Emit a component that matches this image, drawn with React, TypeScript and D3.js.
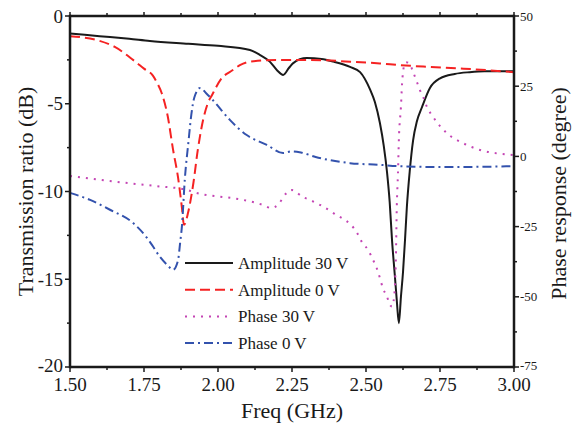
import React from "react"
import * as d3 from "d3"

const amp30X = [1.5, 1.6, 1.7, 1.77, 1.9, 2.0, 2.108, 2.14, 2.175, 2.2, 2.22, 2.24, 2.253, 2.3, 2.35, 2.39, 2.446, 2.48, 2.514, 2.53, 2.547, 2.56, 2.571, 2.58, 2.588, 2.597, 2.604, 2.611, 2.618, 2.625, 2.632, 2.638, 2.648, 2.659, 2.672, 2.689, 2.716, 2.75, 2.8, 2.85, 2.9, 3.0]
const amp30Y = [-1.0, -1.15, -1.3, -1.42, -1.58, -1.7, -1.94, -2.2, -2.6, -3.1, -3.36, -2.95, -2.7, -2.4, -2.45, -2.6, -2.9, -3.2, -4.2, -4.9, -6.1, -7.4, -8.9, -10.6, -12.8, -14.7, -16.2, -17.5, -16.0, -14.6, -12.7, -10.9, -8.8, -7.1, -6.0, -5.2, -4.1, -3.55, -3.3, -3.2, -3.15, -3.15]

const amp0X = [1.5, 1.59, 1.65, 1.713, 1.75, 1.78, 1.794, 1.81, 1.83, 1.848, 1.865, 1.878, 1.885, 1.899, 1.917, 1.932, 1.95, 1.965, 1.98, 2.01, 2.05, 2.074, 2.108, 2.2, 2.3, 2.446, 2.547, 2.615, 2.716, 2.83, 3.0]
const amp0Y = [-1.15, -1.37, -1.75, -2.5, -3.0, -3.4, -3.8, -4.4, -5.7, -7.6, -9.2, -10.9, -11.9, -11.2, -9.5, -7.6, -5.9, -5.0, -4.5, -3.6, -3.08, -2.8, -2.6, -2.5, -2.5, -2.6, -2.7, -2.8, -2.9, -3.0, -3.2]

const ph30X = [1.5, 1.66, 1.794, 1.895, 1.917, 2.05, 2.085, 2.152, 2.18, 2.208, 2.22, 2.25, 2.287, 2.31, 2.39, 2.47, 2.486, 2.507, 2.524, 2.537, 2.547, 2.557, 2.571, 2.581, 2.588, 2.595, 2.601, 2.604, 2.608, 2.611, 2.618, 2.622, 2.628, 2.635, 2.645, 2.659, 2.672, 2.682, 2.693, 2.706, 2.727, 2.773, 2.83, 2.885, 3.0]
const ph30Y = [-7, -9.1, -10.6, -11.9, -12.7, -14.9, -15.5, -17.3, -18.4, -16.6, -14.5, -12, -14.5, -15.5, -20.2, -27.3, -30.5, -33.3, -36.9, -40.0, -43.3, -46.9, -50, -52.9, -53.5, -50, -35.8, -18, -6, 5.8, 17.6, 26.1, 32, 33.5, 33.3, 30.1, 26.5, 23.6, 21.2, 17.6, 14, 8.3, 4.6, 2.3, 0.5]

const ph0X = [1.5, 1.568, 1.635, 1.713, 1.76, 1.78, 1.804, 1.83, 1.848, 1.865, 1.872, 1.878, 1.888, 1.9, 1.91, 1.92, 1.94, 1.96, 1.983, 2.04, 2.097, 2.165, 2.22, 2.25, 2.28, 2.33, 2.446, 2.547, 2.615, 2.773, 3.0]
const ph0Y = [-13, -15.5, -19, -23.7, -29, -32, -35.8, -38.8, -40.4, -37, -30.8, -25, -8, 5, 15, 21, 24.4, 22.5, 20, 13, 7.6, 4.1, 1.2, 1.8, 1.4, -0.2, -2.4, -3.0, -3.5, -3.8, -3.5]

const xTicks = [1.5, 1.75, 2.0, 2.25, 2.5, 2.75, 3.0]
const leftTicks = [0, -5, -10, -15, -20]
const rightTicks = [50, 25, 0, -25, -50, -75]
const legendNames = ["Amplitude 30 V", "Amplitude 0 V", "Phase 30 V", "Phase 0 V"]

const W = 584
const H = 426
const m = { l: 70, r: 70, t: 16, b: 59 }
const font = "'Liberation Serif', 'Times New Roman', serif"

const App = () => {
  const x = d3.scaleLinear().domain([1.5, 3.0]).range([m.l, W - m.r])
  const yL = d3.scaleLinear().domain([-20, 0]).range([H - m.b, m.t])
  const yR = d3.scaleLinear().domain([-75, 50]).range([H - m.b, m.t])

  const lineL = d3.line<[number, number]>().x((d) => x(d[0])).y((d) => yL(d[1])).curve(d3.curveMonotoneX)
  const lineR = d3.line<[number, number]>().x((d) => x(d[0])).y((d) => yR(d[1])).curve(d3.curveMonotoneX)

  const series = [
    { d: lineL(d3.zip(amp30X, amp30Y) as [number, number][]), color: "#1a1a1a", dash: "none" },
    { d: lineL(d3.zip(amp0X, amp0Y) as [number, number][]), color: "#f52222", dash: "10,5" },
    { d: lineR(d3.zip(ph30X, ph30Y) as [number, number][]), color: "#c445b4", dash: "2,6" },
    { d: lineR(d3.zip(ph0X, ph0Y) as [number, number][]), color: "#3352ad", dash: "9,4,2,4" },
  ]

  const x0 = m.l
  const x1 = W - m.r
  const y0 = H - m.b
  const y1 = m.t
  const xMinor = d3.range(1.625, 3.0, 0.25)
  const lMinor = d3.range(-17.5, 0, 5)
  const rMinor = d3.range(-62.5, 50, 25)
  const fmt = d3.format(".2f")

  return (
    <svg width={W} height={H} style={{ position: "absolute", left: 0, top: 0, background: "#fff" }} fontFamily={font}>
      {series.map((s, i) => (
        <path key={i} d={s.d || ""} fill="none" stroke={s.color} strokeWidth={2} strokeDasharray={s.dash} />
      ))}

      {/* axes frame */}
      <g stroke="#1a1a1a" strokeWidth={2.5} fill="none">
        <line x1={x0} x2={x1} y1={y0} y2={y0} />
        <line x1={x0} x2={x1} y1={y1} y2={y1} />
        <line x1={x0} x2={x0} y1={y0 + 1.25} y2={y1 - 1.25} />
        <line x1={x1} x2={x1} y1={y0 + 1.25} y2={y1 - 1.25} />
      </g>

      <g stroke="#1a1a1a" strokeWidth={1.5}>
        {xTicks.map((t) => (
          <g key={"xt" + t}>
            <line x1={x(t)} x2={x(t)} y1={y0} y2={y0 + 5} />
            <line x1={x(t)} x2={x(t)} y1={y1} y2={y1 - 4} />
          </g>
        ))}
        {xMinor.map((t) => (
          <g key={"xm" + t}>
            <line x1={x(t)} x2={x(t)} y1={y0} y2={y0 + 3} />
            <line x1={x(t)} x2={x(t)} y1={y1} y2={y1 - 3} />
          </g>
        ))}
        {leftTicks.map((t) => (
          <line key={"lt" + t} x1={x0} x2={x0 - 5} y1={yL(t)} y2={yL(t)} />
        ))}
        {lMinor.map((t) => (
          <line key={"lm" + t} x1={x0} x2={x0 - 3} y1={yL(t)} y2={yL(t)} />
        ))}
        {rightTicks.map((t) => (
          <line key={"rt" + t} x1={x1} x2={x1 + 5} y1={yR(t)} y2={yR(t)} />
        ))}
        {rMinor.map((t) => (
          <line key={"rm" + t} x1={x1} x2={x1 + 3} y1={yR(t)} y2={yR(t)} />
        ))}
      </g>

      <g fill="#1a1a1a" fontSize={19}>
        {xTicks.map((t) => (
          <text key={"xl" + t} x={x(t)} y={y0 + 24} textAnchor="middle">{fmt(t)}</text>
        ))}
        {leftTicks.map((t) => (
          <text key={"ll" + t} x={x0 - 7} y={yL(t)} dy={t === -20 ? "0.25em" : "0.35em"} textAnchor="end">{t}</text>
        ))}
      </g>
      <g fill="#1a1a1a" fontSize={13}>
        {rightTicks.map((t) => (
          <text key={"rl" + t} x={x1 + 6} y={yR(t)} dy={t === -75 ? "0.2em" : "0.35em"} textAnchor="start">{t}</text>
        ))}
      </g>

      <g fill="#1a1a1a" fontSize={22}>
        <text x={(x0 + x1) / 2} y={418} textAnchor="middle">Freq (GHz)</text>
        <text transform={`translate(33,${(y0 + y1) / 2}) rotate(-90)`} textAnchor="middle">Transmission ratio (dB)</text>
        <text transform={`translate(566,${(y0 + y1) / 2 + 2}) rotate(-90)`} textAnchor="middle">Phase response (degree)</text>
      </g>

      <g fontSize={17} fill="#1a1a1a">
        {legendNames.map((n, i) => {
          const ly = 263 + i * 26.7
          return (
            <g key={n}>
              <line x1={185} x2={233} y1={ly} y2={ly} stroke={series[i].color} strokeWidth={2} strokeDasharray={series[i].dash} />
              <text x={238} y={ly} dy="0.35em">{n}</text>
            </g>
          )
        })}
      </g>
    </svg>
  )
}

export default App
